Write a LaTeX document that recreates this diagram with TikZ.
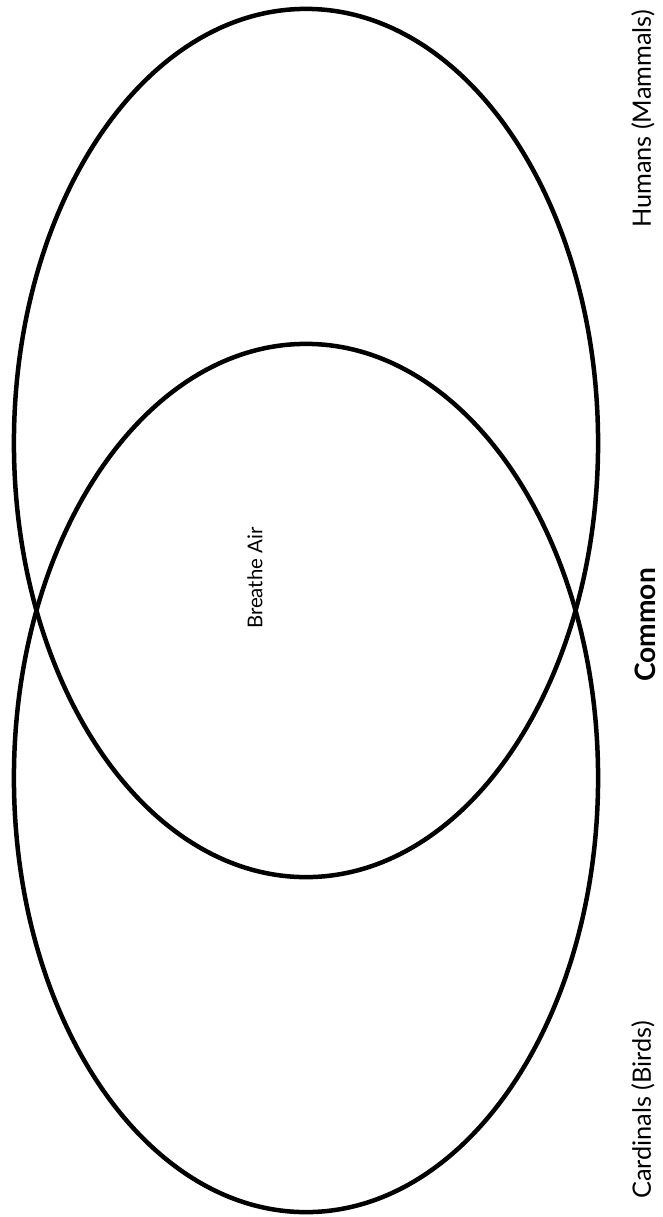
\documentclass[tikz,border=0pt]{standalone}
\usepackage{fontspec}
\setmainfont{Lato}
\usepackage{tikz}
\usetikzlibrary{shapes.geometric}
\tikzset{
    setshape/.style={ellipse, draw=black, line width=3.2pt, inner sep=0pt, minimum width=14.6cm, minimum height=21.7cm},
    setlabel/.style={rotate=90, inner sep=0pt, font=\fontsize{18}{21}\selectfont},
    midlabel/.style={rotate=90, inner sep=0pt, font=\fontsize{14.5}{17}\selectfont}
}
\begin{document}
\begin{tikzpicture}[x=0.025cm, y=-0.025cm]
        \useasboundingbox (0,0) rectangle (663,1217);
        
        \node[setshape] (Humans) at (306,443) {};
        \node[setshape] (Cardinals) at (306,778) {};
        
        \node[midlabel] (Shared) at (255,578) {Breathe Air};
        
        % labels along the right side
        \node[setlabel] (HumansLabel) at (643,119) {Humans (Mammals)};
        \node[setlabel, font=\fontsize{20}{24}\selectfont\bfseries] (CommonLabel) at (645,625) {Common};
        \node[setlabel] (CardinalsLabel) at (643,1110) {Cardinals (Birds)};
    \end{tikzpicture}
\end{document}
